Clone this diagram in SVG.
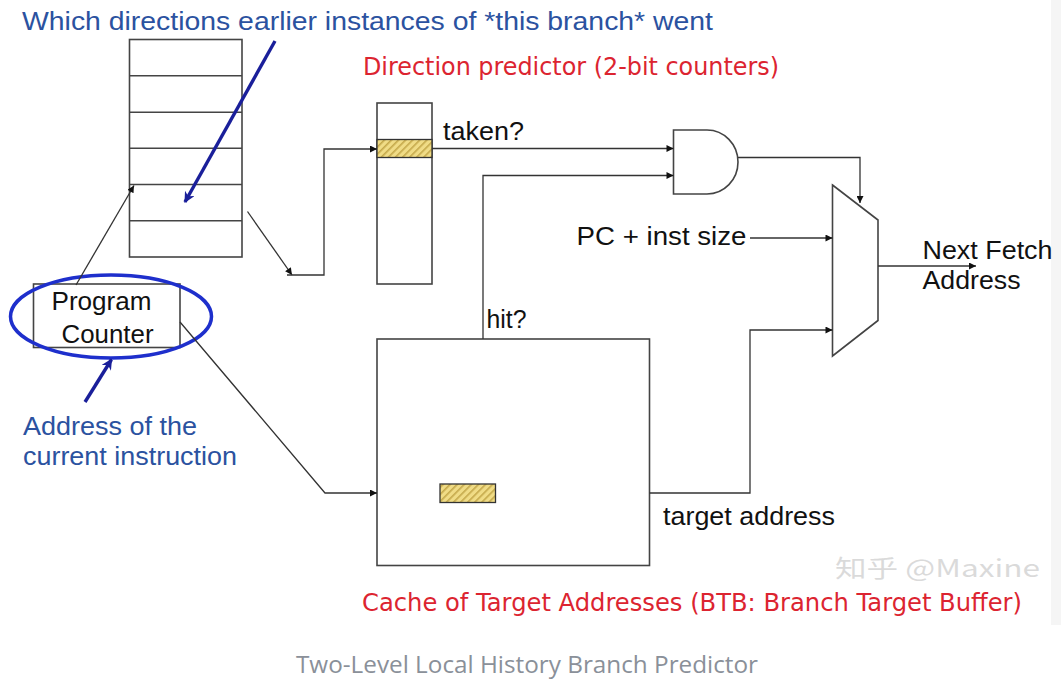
<svg xmlns="http://www.w3.org/2000/svg" width="1061" height="685" viewBox="0 0 1061 685">
<style>
.box{fill:#fff;stroke:#444;stroke-width:1.6}
.row{stroke:#444;stroke-width:1.6}
.wire{fill:none;stroke:#333;stroke-width:1.3}
.lbl{font-family:"Liberation Sans",Arial,sans-serif;font-size:26px;fill:#111}
.blue{font-family:"Liberation Sans",Arial,sans-serif;font-size:26px;fill:#2b52a0}
.red{font-family:"DejaVu Sans",Verdana,sans-serif;font-size:24px;fill:#dc2430}
.cap{font-family:"Open Sans","Noto Sans",sans-serif;font-size:24px;fill:#8a9099}
.hatch{fill:url(#hatch);stroke:#333;stroke-width:1.3}
</style>
<defs>
<pattern id="hatch" patternUnits="userSpaceOnUse" width="5" height="5" patternTransform="rotate(45)">
<rect width="5" height="5" fill="#f0dc86"/>
<rect width="1.6" height="5" fill="#c4a84a"/>
</pattern>
<marker id="ah" viewBox="0 0 10 10" refX="10" refY="5" markerWidth="9" markerHeight="7" markerUnits="userSpaceOnUse" orient="auto">
<path d="M0,0 L10,5 L0,10 z" fill="#111"/>
</marker>
<marker id="bh" viewBox="0 0 10 10" refX="9" refY="5" markerWidth="18" markerHeight="11" markerUnits="userSpaceOnUse" orient="auto">
<path d="M0,0 L10,5 L0,10 L3,5 z" fill="#1a1f9a"/>
</marker>
</defs>
<rect width="1061" height="685" fill="#fff"/>
<rect x="1051" y="0" width="10" height="625" fill="#f5f5f5"/>

<g id="history-table">
<rect class="box" x="129.5" y="39.5" width="112.5" height="217.5"/>
<line class="row" x1="129.5" y1="75.8" x2="242" y2="75.8"/>
<line class="row" x1="129.5" y1="112.3" x2="242" y2="112.3"/>
<line class="row" x1="129.5" y1="148.3" x2="242" y2="148.3"/>
<line class="row" x1="129.5" y1="184.5" x2="242" y2="184.5"/>
<line class="row" x1="129.5" y1="220.8" x2="242" y2="220.8"/>
</g>

<g id="direction-predictor">
<rect class="box" x="377" y="103" width="55" height="181"/>
<rect class="hatch" x="377" y="139.5" width="55" height="18"/>
</g>

<g id="btb">
<rect class="box" x="377" y="339" width="272.5" height="226.5"/>
<rect class="hatch" x="440" y="484" width="55.5" height="18.5"/>
</g>

<g id="program-counter">
<rect class="box" x="33.5" y="284" width="146.5" height="63.5"/>
<text class="lbl" x="101.5" y="310" text-anchor="middle" textLength="100" lengthAdjust="spacingAndGlyphs">Program</text>
<text class="lbl" x="107.5" y="343" text-anchor="middle" textLength="92" lengthAdjust="spacingAndGlyphs">Counter</text>
<ellipse cx="111" cy="316.5" rx="100.5" ry="41.5" fill="none" stroke="#1e2fcc" stroke-width="3.5"/>
</g>

<g id="and-gate">
<path d="M673.5,130 L707,130 A31,32 0 0 1 707,194 L673.5,194 Z" fill="#fff" stroke="#444" stroke-width="1.6"/>
</g>

<g id="mux">
<path d="M832.5,185 L878,220 L878,320.5 L832.5,356 Z" fill="#fff" stroke="#444" stroke-width="1.6"/>
</g>

<g id="connectors">
<line class="wire" x1="76" y1="285" x2="134" y2="185.5" marker-end="url(#ah)"/>
<line class="wire" x1="247.5" y1="211.5" x2="292" y2="275" marker-end="url(#ah)"/>
<polyline class="wire" points="287,275 324,275 324,149 377,149" marker-end="url(#ah)"/>
<line class="wire" x1="432" y1="148.5" x2="673.5" y2="148.5" marker-end="url(#ah)"/>
<polyline class="wire" points="483,339 483,175.5 673.5,175.5" marker-end="url(#ah)"/>
<polyline class="wire" points="738,157.5 860,157.5 860,203" marker-end="url(#ah)"/>
<line class="wire" x1="750" y1="238" x2="832.5" y2="238" marker-end="url(#ah)"/>
<polyline class="wire" points="649.5,493 750,493 750,330 832.5,330" marker-end="url(#ah)"/>
<line class="wire" x1="878" y1="266" x2="976" y2="266" marker-end="url(#ah)"/>
<polyline class="wire" points="180,322 325,493 377,493" marker-end="url(#ah)"/>
<line x1="275" y1="41" x2="185" y2="202" stroke="#1a1f9a" stroke-width="3.4" marker-end="url(#bh)"/>
<line x1="85" y1="402" x2="111.5" y2="359.5" stroke="#1a1f9a" stroke-width="3.4" marker-end="url(#bh)"/>
</g>

<g id="labels">
<text class="blue" x="22" y="30" textLength="691" lengthAdjust="spacingAndGlyphs">Which directions earlier instances of *this branch* went</text>
<text class="red" x="363" y="75" textLength="416" lengthAdjust="spacingAndGlyphs">Direction predictor (2-bit counters)</text>
<text class="lbl" x="443" y="140" textLength="81" lengthAdjust="spacingAndGlyphs">taken?</text>
<text class="lbl" x="576.5" y="245" textLength="170" lengthAdjust="spacingAndGlyphs">PC + inst size</text>
<text class="lbl" x="922.5" y="258.5" textLength="130" lengthAdjust="spacingAndGlyphs">Next Fetch</text>
<text class="lbl" x="922.5" y="289" textLength="98" lengthAdjust="spacingAndGlyphs">Address</text>
<text class="lbl" x="486.5" y="327.5" textLength="40" lengthAdjust="spacingAndGlyphs">hit?</text>
<text class="lbl" x="663" y="525" textLength="172" lengthAdjust="spacingAndGlyphs">target address</text>
<text class="blue" x="23" y="435" textLength="174" lengthAdjust="spacingAndGlyphs">Address of the</text>
<text class="blue" x="23" y="465" textLength="214" lengthAdjust="spacingAndGlyphs">current instruction</text>
<text class="red" x="362" y="611" textLength="660" lengthAdjust="spacingAndGlyphs">Cache of Target Addresses (BTB: Branch Target Buffer)</text>
<text x="835" y="577" font-family="'Noto Sans CJK SC','Noto Sans',sans-serif" font-size="24" fill="#d4d4d4" fill-opacity="0.85" textLength="205" lengthAdjust="spacingAndGlyphs">知乎 @Maxine</text>
<text class="cap" x="296" y="673" textLength="462" lengthAdjust="spacingAndGlyphs">Two-Level Local History Branch Predictor</text>
</g>
</svg>
